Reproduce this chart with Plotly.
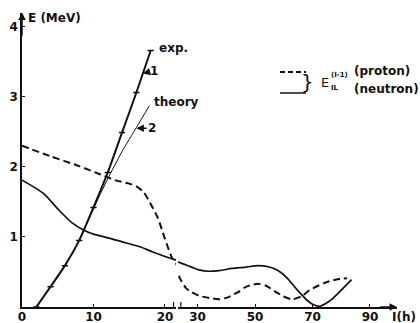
import plotly.graph_objects as go

# ---- data (I in units of hbar, E in MeV) ----
exp_I = [2, 4, 6, 8, 10, 12, 14, 16, 18]
exp_E = [0.0, 0.29, 0.59, 0.95, 1.42, 1.92, 2.49, 3.06, 3.66]

theory_I = [2, 4, 6, 8, 10, 11, 12, 14, 16, 17.8]
theory_E = [0.0, 0.29, 0.59, 0.95, 1.40, 1.62, 1.83, 2.22, 2.56, 2.87]

proton_I = [0, 4, 8, 11, 13, 15, 16, 17, 18, 19, 20, 21, 22, 24, 26, 28, 30.5, 34, 37.5,
            40, 44, 47, 51, 54, 57, 60, 63, 66, 69, 74, 78, 82]
proton_E = [2.30, 2.15, 2.01, 1.89, 1.81, 1.76, 1.72, 1.64, 1.47, 1.27, 0.97, 0.70, 0.56, 0.40,
            0.27, 0.21, 0.16, 0.13, 0.11, 0.13, 0.21, 0.29, 0.33, 0.30, 0.22, 0.15, 0.11,
            0.15, 0.24, 0.34, 0.39, 0.41]

neutron_I = [0, 3, 5, 7, 8.6, 10, 12.3, 14, 16.5, 18.4, 21.2, 24, 26, 30.5, 34, 37.5, 42, 47,
             51, 55, 58, 61, 65, 68, 70, 72.5, 75, 77, 80, 83.6]
neutron_E = [1.81, 1.62, 1.40, 1.20, 1.10, 1.04, 0.98, 0.93, 0.86, 0.78, 0.68, 0.63, 0.60,
             0.53, 0.51, 0.52, 0.55, 0.57, 0.59, 0.57, 0.52, 0.42, 0.23, 0.10, 0.04, 0.01,
             0.06, 0.12, 0.24, 0.39]

left_ticks = [0, 10, 20]
right_ticks = [30, 50, 70, 90]
y_ticks = [1, 2, 3, 4]

W, H = 420, 323
INK = "#111111"
FONT = "DejaVu Sans"

fig = go.Figure()

for xa in ["x", "x2"]:
    fig.add_trace(go.Scatter(x=proton_I, y=proton_E, mode="lines", xaxis=xa, yaxis="y",
                             line=dict(color=INK, width=2, dash="7px,4px", shape="spline", smoothing=0.7),
                             showlegend=False, hoverinfo="skip"))
    fig.add_trace(go.Scatter(x=neutron_I, y=neutron_E, mode="lines", xaxis=xa, yaxis="y",
                             line=dict(color=INK, width=1.7, shape="spline", smoothing=0.7),
                             showlegend=False, hoverinfo="skip"))

fig.add_trace(go.Scatter(x=theory_I, y=theory_E, mode="lines", xaxis="x", yaxis="y",
                         line=dict(color=INK, width=1, shape="spline", smoothing=0.5),
                         showlegend=False, hoverinfo="skip"))
fig.add_trace(go.Scatter(x=exp_I, y=exp_E, mode="lines+markers", xaxis="x", yaxis="y",
                         line=dict(color=INK, width=2, shape="spline", smoothing=0.5),
                         marker=dict(symbol="line-ew-open", size=4.5, line=dict(color=INK, width=1.5)),
                         showlegend=False, hoverinfo="skip"))

L0, L1 = 22 / W, 176 / W
R0, R1 = 178 / W, 397 / W
Y0, Y1 = 16 / H, (H - 12.6) / H

axis_common = dict(showgrid=False, zeroline=False, showline=True, linecolor=INK, linewidth=1.5,
                   ticks="inside", ticklen=3, tickwidth=1.2, tickcolor=INK,
                   tickfont=dict(family=FONT, size=12, color=INK, weight="bold"),
                   fixedrange=True, automargin=False)

fig.update_layout(
    width=W, height=H, margin=dict(l=0, r=0, t=0, b=0),
    paper_bgcolor="white", plot_bgcolor="white",
    xaxis=dict(domain=[L0, L1], range=[0, 21.54], tickvals=left_ticks, anchor="y",
               ticklabelstandoff=-2, **axis_common),
    xaxis2=dict(domain=[R0, R1], range=[23.2, 99.4], tickvals=right_ticks, anchor="y",
                ticklabelstandoff=-2, **axis_common),
    yaxis=dict(domain=[Y0, Y1], range=[0, 4.2], tickvals=y_ticks, anchor="x", **axis_common),
)

ann_font = dict(family=FONT, size=12, color=INK, weight="bold")
annotations = [
    # axis arrows
    dict(x=0, y=4.2, ax=0, ay=3.85, xref="x", yref="y", axref="x", ayref="y", text="",
         showarrow=True, arrowhead=2, arrowsize=1, arrowwidth=1.5, arrowcolor=INK),
    dict(x=99.4, y=0, ax=93, ay=0, xref="x2", yref="y", axref="x2", ayref="y", text="",
         showarrow=True, arrowhead=2, arrowsize=1, arrowwidth=1.5, arrowcolor=INK),
    # curve labels
    dict(x=18.9, y=3.69, xref="x", yref="y", text="exp.", showarrow=False, xanchor="left",
         font=ann_font),
    dict(x=18.2, y=2.92, xref="x", yref="y", text="theory", showarrow=False, xanchor="left",
         font=ann_font),
    dict(x=16.9, y=3.33, ax=18.4, ay=3.37, xref="x", yref="y", axref="x", ayref="y", text="1",
         showarrow=True, arrowhead=2, arrowsize=1, arrowwidth=1.5, arrowcolor=INK, font=ann_font),
    dict(x=16.0, y=2.55, ax=18.2, ay=2.55, xref="x", yref="y", axref="x", ayref="y", text="2",
         showarrow=True, arrowhead=2, arrowsize=1, arrowwidth=1.5, arrowcolor=INK, font=ann_font),
    # axis titles
    dict(x=26 / W, y=1 - 18 / H, xref="paper", yref="paper", text="E (MeV)", showarrow=False,
         xanchor="left", yanchor="middle", font=ann_font),
    dict(x=418 / W, y=1 - 317 / H, xref="paper", yref="paper", text="I(h)", showarrow=False,
         xanchor="right", yanchor="middle", font=dict(family=FONT, size=12, color=INK, weight="bold")),
    # legend texts
    dict(x=319 / W, y=1 - 82 / H, xref="paper", yref="paper", text="E", showarrow=False,
         xanchor="left", yanchor="middle", font=dict(family=FONT, size=13, color=INK)),
    dict(x=329 / W, y=1 - 75 / H, xref="paper", yref="paper", text="(I-1)", showarrow=False,
         xanchor="left", yanchor="middle", font=dict(family=FONT, size=7, color=INK, weight="bold")),
    dict(x=329 / W, y=1 - 88 / H, xref="paper", yref="paper", text="IL", showarrow=False,
         xanchor="left", yanchor="middle", font=dict(family=FONT, size=7, color=INK, weight="bold")),
    dict(x=352 / W, y=1 - 71 / H, xref="paper", yref="paper", text="(proton)", showarrow=False,
         xanchor="left", yanchor="middle", font=ann_font),
    dict(x=352 / W, y=1 - 89 / H, xref="paper", yref="paper", text="(neutron)", showarrow=False,
         xanchor="left", yanchor="middle", font=ann_font),
    dict(x=316 / W, y=1 - 82 / H, xref="paper", yref="paper", text="}", showarrow=False,
         xanchor="right", yanchor="middle", font=dict(family=FONT, size=20, color=INK)),
]
fig.update_layout(annotations=annotations)

shapes = [
    # legend line samples
    dict(type="line", xref="paper", yref="paper", x0=280 / W, x1=306 / W, y0=1 - 72 / H, y1=1 - 72 / H,
         line=dict(color=INK, width=1.8, dash="5px,3px")),
    dict(type="line", xref="paper", yref="paper", x0=280 / W, x1=306 / W, y0=1 - 93 / H, y1=1 - 93 / H,
         line=dict(color=INK, width=1.5)),
    # axis break marks
    dict(type="line", xref="x", yref="y", x0=21.2, x1=21.2, y0=-0.05, y1=0.07,
         line=dict(color=INK, width=1.2)),
    dict(type="line", xref="x2", yref="y", x0=24.2, x1=24.2, y0=-0.05, y1=0.07,
         line=dict(color=INK, width=1.2)),
]
fig.update_layout(shapes=shapes)

fig.write_html("out.html")
